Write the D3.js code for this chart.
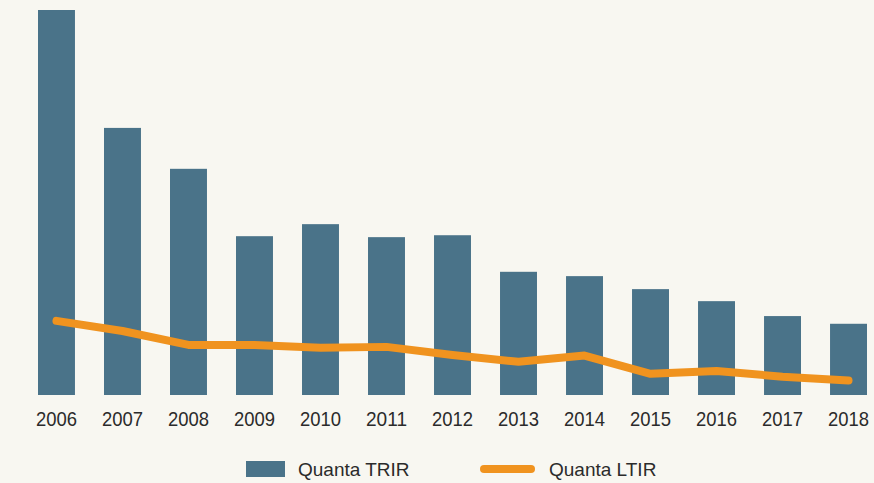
<!DOCTYPE html>
<html>
<head>
<meta charset="utf-8">
<script src="https://cdn.jsdelivr.net/npm/d3@7"></script>
<style>
  body { margin: 0; background: #f8f7f1; }
  svg { display: block; }
</style>
</head>
<body>
<script>
// Quanta safety rates, 2006-2018
var years = ['2006', '2007', '2008', '2009', '2010', '2011', '2012', '2013', '2014', '2015', '2016', '2017', '2018'];
var trir = [8.0, 5.55, 4.70, 3.30, 3.55, 3.28, 3.32, 2.56, 2.47, 2.20, 1.95, 1.64, 1.48];
var ltir = [1.54, 1.33, 1.04, 1.04, 0.98, 1.0, 0.83, 0.69, 0.82, 0.44, 0.50, 0.38, 0.30];

var svgWidth = 874;
var svgHeight = 483;
var barColor = '#4a7389';
var lineColor = '#f0931f';

var svg = d3.select('body').append('svg')
  .attr('width', svgWidth)
  .attr('height', svgHeight);

var x = d3.scaleBand()
  .domain(years)
  .range([38, 867])
  .paddingInner(0.44)
  .paddingOuter(0);

var y = d3.scaleLinear()
  .domain([0, 8])
  .range([395, 10]);

svg.selectAll('.bar')
  .data(trir)
  .enter()
  .append('rect')
  .attr('class', 'bar')
  .attr('x', function(d, i) { return x(years[i]); })
  .attr('y', function(d) { return y(d); })
  .attr('width', x.bandwidth())
  .attr('height', function(d) { return y(0) - y(d); })
  .style('fill', barColor);

var line = d3.line()
  .x(function(d, i) { return x(years[i]) + x.bandwidth() / 2; })
  .y(function(d) { return y(d); });

svg.append('path')
  .datum(ltir)
  .attr('d', line)
  .style('fill', 'none')
  .style('stroke', lineColor)
  .style('stroke-width', 8)
  .style('stroke-linecap', 'round')
  .style('stroke-linejoin', 'round');

// year labels, no axis line or ticks
var xAxis = svg.append('g')
  .attr('transform', 'translate(0,' + 395 + ')')
  .call(d3.axisBottom(x).tickSize(0).tickPadding(0));
xAxis.select('.domain').remove();
xAxis.selectAll('text')
  .attr('dy', null)
  .attr('y', 31)
  .attr('textLength', 41)
  .attr('lengthAdjust', 'spacingAndGlyphs')
  .style('font-family', '"Liberation Sans", Arial, sans-serif')
  .style('font-size', '21px')
  .style('fill', '#2b2b2b');

// legend
var legend = svg.append('g').attr('class', 'legend');
legend.append('rect')
  .attr('x', 246).attr('y', 461)
  .attr('width', 39).attr('height', 16)
  .style('fill', barColor);
legend.append('text')
  .attr('x', 298).attr('y', 476)
  .text('Quanta TRIR');
legend.append('line')
  .attr('x1', 484).attr('x2', 531)
  .attr('y1', 469).attr('y2', 469)
  .style('stroke', lineColor)
  .style('stroke-width', 8)
  .style('stroke-linecap', 'round');
legend.append('text')
  .attr('x', 549).attr('y', 476)
  .text('Quanta LTIR');
legend.selectAll('text')
  .style('font-family', '"Liberation Sans", Arial, sans-serif')
  .style('font-size', '19px')
  .style('fill', '#2b2b2b');
</script>
</body>
</html>
